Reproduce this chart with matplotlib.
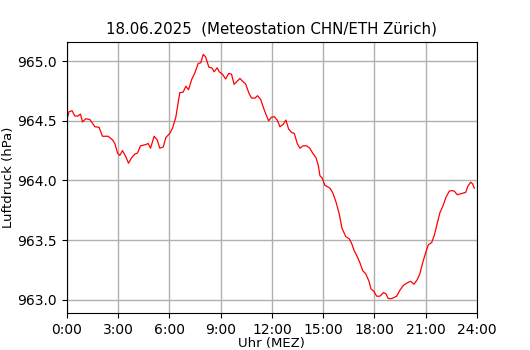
import matplotlib
matplotlib.use("Agg")
import matplotlib.pyplot as plt

hours = [0.0, 0.13, 0.31, 0.47, 0.66, 0.80, 0.92, 1.11, 1.35, 1.50, 1.64, 1.89, 2.09, 2.42, 2.68, 2.81,
         2.97, 3.10, 3.26, 3.45, 3.61, 3.79, 3.98, 4.14, 4.31, 4.62, 4.76, 4.90, 5.11, 5.29, 5.44, 5.64,
         5.80, 6.03, 6.19, 6.38, 6.61, 6.81, 6.97, 7.12, 7.32, 7.49, 7.69, 7.84, 7.98, 8.12, 8.31, 8.51,
         8.62, 8.80, 8.92, 9.11, 9.29, 9.48, 9.64, 9.79, 9.99, 10.13, 10.29, 10.46, 10.66, 10.81, 11.01,
         11.16, 11.34, 11.53, 11.69, 11.81, 11.98, 12.14, 12.31, 12.47, 12.66, 12.82, 12.98, 13.17, 13.31,
         13.48, 13.64, 13.83, 14.03, 14.22, 14.38, 14.58, 14.71, 14.81, 14.94, 15.10, 15.40, 15.55, 15.75,
         15.94, 16.10, 16.32, 16.53, 16.67, 16.82, 17.00, 17.15, 17.31, 17.50, 17.68, 17.80, 17.97, 18.13,
         18.32, 18.52, 18.67, 18.81, 19.01, 19.30, 19.49, 19.69, 19.89, 20.12, 20.31, 20.51, 20.66, 20.82,
         21.01, 21.15, 21.35, 21.50, 21.64, 21.83, 21.99, 22.19, 22.38, 22.52, 22.67, 22.85, 23.10, 23.34,
         23.46, 23.63, 23.75, 23.84]
pressure = [964.506, 964.576, 964.584, 964.54, 964.54, 964.556, 964.49, 964.517, 964.51, 964.48, 964.45,
            964.445, 964.37, 964.37, 964.34, 964.31, 964.23, 964.21, 964.25, 964.20, 964.144, 964.19,
            964.22, 964.23, 964.29, 964.30, 964.31, 964.27, 964.37, 964.34, 964.27, 964.28, 964.36,
            964.395, 964.44, 964.53, 964.735, 964.74, 964.79, 964.76, 964.85, 964.90, 964.98, 964.986,
            965.056, 965.036, 964.95, 964.94, 964.91, 964.944, 964.91, 964.89, 964.85, 964.897, 964.89,
            964.805, 964.835, 964.855, 964.83, 964.81, 964.73, 964.69, 964.69, 964.71, 964.68, 964.60,
            964.54, 964.50, 964.53, 964.534, 964.506, 964.45, 964.47, 964.506, 964.43, 964.40, 964.395,
            964.31, 964.27, 964.29, 964.29, 964.27, 964.23, 964.19, 964.13, 964.04, 964.02, 963.96,
            963.935, 963.90, 963.82, 963.72, 963.60, 963.53, 963.51, 963.47, 963.41, 963.36, 963.31,
            963.245, 963.215, 963.155, 963.09, 963.07, 963.03, 963.03, 963.06, 963.05, 963.01, 963.01,
            963.03, 963.08, 963.12, 963.14, 963.155, 963.13, 963.17, 963.22, 963.31, 963.40, 963.46,
            963.48, 963.54, 963.62, 963.73, 963.78, 963.86, 963.91, 963.915, 963.91, 963.88, 963.89,
            963.90, 963.95, 963.985, 963.97, 963.935]

xticks = [0, 3, 6, 9, 12, 15, 18, 21, 24]
xticklabels = ["0:00", "3:00", "6:00", "9:00", "12:00", "15:00", "18:00", "21:00", "24:00"]
yticks = [963.0, 963.5, 964.0, 964.5, 965.0]

fig = plt.figure(figsize=(5.3, 3.5), dpi=100)
ax = fig.add_axes([0.126, 0.106, 0.774, 0.774])
ax.plot(hours, pressure, color="red", linewidth=0.9)
ax.set_xlim(0, 24)
ax.set_ylim(962.89, 965.16)
ax.set_xticks(xticks)
ax.set_xticklabels(xticklabels)
ax.set_yticks(yticks)
ax.set_yticklabels([f"{v:.1f}" for v in yticks])
ax.grid(True, color="#b0b0b0", linewidth=1.0)
ax.set_axisbelow(True)
ax.set_xlabel("Uhr (MEZ)", fontsize=9.5, labelpad=0.5)
ax.set_ylabel("Luftdruck (hPa)", fontsize=9.5, labelpad=2)
ax.set_title("18.06.2025  (Meteostation CHN/ETH Zürich)", fontsize=10.8)
fig.savefig("out.png", dpi=100)
